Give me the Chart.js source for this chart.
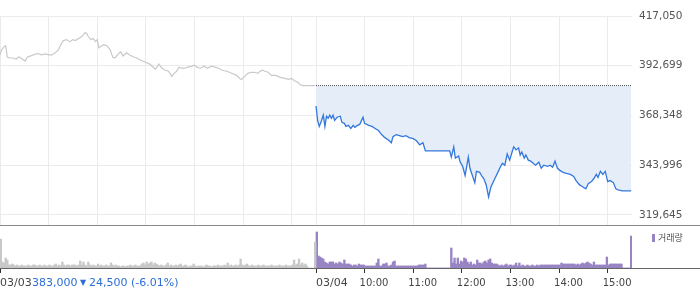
<!DOCTYPE html>
<html>
<head>
<meta charset="utf-8">
<script src="https://cdn.jsdelivr.net/npm/chart.js@4.4.1/dist/chart.umd.min.js"></script>
<style>
  html, body { margin: 0; padding: 0; background: #fff; }
  #wrap { position: relative; width: 700px; height: 289px; overflow: hidden; }
  #priceBox { position: absolute; left: 0; top: 0; width: 700px; height: 226px; }
  #volBox { position: absolute; left: 0; top: 226px; width: 700px; height: 63px; }
</style>
</head>
<body>
<div id="wrap">
  <div id="priceBox"><canvas id="price"></canvas></div>
  <div id="volBox"><canvas id="vol"></canvas></div>
</div>
<script>
// minutes after 09:00, one session = 390 minutes
const SESSION = 390;
const prevClose = 383000;
const priceTicks = [319645, 343996, 368348, 392699, 417050];
const gridMinutes = [0, 60, 120, 180, 240, 300, 360, 390, 450, 510, 570, 630, 690, 750];
const volTickMinutes = [0, 390, 450, 510, 570, 630, 690, 750];
const volTickLabels = ['03/03', '03/04', '10:00', '11:00', '12:00', '13:00', '14:00', '15:00'];
const lastPrice = '383,000';
const changeText = '24,500 (-6.01%)';
const volLabel = '거래량';

// 03/03
const day1Min = [
  0, 2, 5, 7, 9, 12, 16, 20, 23, 26,
  29, 31, 34, 38, 41, 45, 49, 51, 56, 60,
  64, 68, 72, 75, 78, 82, 86, 90, 93, 97,
  101, 105, 107, 109, 112, 115, 118, 120, 122, 124,
  128, 132, 136, 139, 142, 144, 147, 149, 152, 156,
  160, 165, 169, 173, 179, 185, 189, 192, 196, 200,
  204, 208, 212, 215, 218, 221, 224, 228, 232, 237,
  240, 243, 247, 252, 256, 261, 265, 270, 274, 280,
  286, 292, 296, 298, 302, 306, 310, 314, 318, 321,
  324, 327, 331, 335, 340, 346, 352, 356, 360, 363,
  368, 370, 374, 379, 385, 389
];
const day1Price = [
  398000, 400500, 402000, 402500, 397000, 396500, 396500, 396000, 397000, 396500,
  395500, 395000, 397000, 397500, 398000, 398500, 398500, 398000, 398500, 398000,
  398000, 399000, 400500, 403000, 405000, 405500, 404500, 405500, 405000, 406000,
  407000, 409000, 408500, 407000, 405500, 406000, 404500, 405500, 401500, 402000,
  403000, 402500, 400500, 397000, 396500, 397500, 399000, 399500, 397500, 399000,
  398000, 397000, 396500, 395500, 394500, 393500, 392000, 391000, 393500, 391500,
  390500, 390000, 387500, 389000, 390000, 392000, 391500, 391500, 392000, 392500,
  393000, 392000, 391500, 392500, 391500, 392500, 392000, 391500, 390500, 390000,
  389000, 388000, 386500, 386000, 387500, 389000, 389500, 389500, 389000, 390000,
  390500, 390000, 389500, 388000, 388000, 387000, 386500, 386000, 386500, 385500,
  384500, 383500, 383000, 383000, 383000, 383000
];

// 03/04
const day2Min = [
  0, 2, 4, 7, 9, 11, 13, 15, 17, 19,
  21, 23, 26, 30, 32, 35, 37, 40, 43, 46,
  48, 51, 54, 58, 60, 65, 69, 73, 77, 81,
  85, 89, 93, 95, 99, 103, 107, 111, 115, 120,
  124, 128, 132, 135, 165, 167, 170, 172, 176, 178,
  181, 184, 186, 188, 190, 193, 196, 198, 202, 205,
  207, 210, 213, 216, 219, 222, 225, 228, 230, 233,
  236, 239, 242, 244, 247, 250, 252, 254, 257, 259,
  262, 265, 268, 271, 275, 278, 281, 286, 289, 292,
  295, 298, 301, 305, 309, 314, 318, 321, 325, 329,
  333, 336, 340, 343, 346, 348, 351, 354, 357, 360,
  363, 367, 370, 373, 378, 384, 389
];
const day2Price = [
  373000, 366000, 363000, 366000, 368500, 363000, 368000, 367000, 368500, 367000,
  368500, 366000, 367500, 368000, 365000, 364500, 363000, 363500, 362000, 363500,
  362500, 363500, 364000, 367500, 364500, 363500, 363000, 362000, 361000, 359000,
  357500, 356500, 355000, 358000, 359000, 358500, 358000, 358500, 357500, 357000,
  356000, 354000, 355000, 351000, 351000, 348000, 353000, 347500, 348500, 345500,
  343500, 339000, 343500, 348000, 342500, 339000, 335500, 341000, 340500, 338500,
  337500, 334500, 328500, 333500, 336000, 338500, 341000, 343500, 345000, 344000,
  349500, 346500, 350500, 353000, 351500, 352500, 349000, 350500, 347500, 349000,
  346500, 346000, 345000, 344000, 345500, 342500, 344000, 343500, 344000, 343000,
  346000, 342500, 341500, 340500, 340000, 339500, 338500, 336500, 334500, 333500,
  332500, 335000, 336000, 337500, 339500, 338000, 341000, 339500, 341000, 336000,
  336500, 335500, 332500, 332000, 331500, 331500, 331500
];

// volume per 2-minute bin (thousand shares)
const volDay1 = [
  29, 6, 5, 10, 8, 3, 3, 4, 3, 2,
  3, 2, 2, 3, 2, 2, 2, 3, 2, 2,
  3, 3, 2, 2, 3, 2, 2, 3, 2, 2,
  3, 2, 2, 3, 4, 2, 3, 2, 6, 3,
  2, 3, 3, 2, 3, 3, 3, 2, 3, 7,
  3, 6, 3, 2, 6, 3, 2, 3, 2, 2,
  4, 2, 3, 2, 2, 3, 2, 2, 5, 3,
  2, 3, 2, 2, 1, 2, 2, 1, 2, 2,
  3, 2, 2, 3, 2, 2, 2, 4, 5, 3,
  6, 4, 5, 6, 3, 5, 4, 3, 2, 3,
  2, 2, 3, 5, 2, 3, 2, 2, 3, 2,
  3, 4, 2, 2, 3, 2, 1, 2, 2, 4,
  2, 1, 2, 2, 2, 1, 2, 3, 2, 2,
  1, 2, 2, 2, 3, 2, 2, 2, 3, 2,
  5, 2, 3, 2, 2, 3, 2, 3, 9, 3,
  2, 3, 4, 2, 2, 3, 2, 2, 2, 3,
  2, 2, 3, 2, 2, 2, 2, 3, 2, 2,
  2, 2, 3, 2, 2, 2, 3, 2, 2, 2,
  3, 8, 3, 4, 9, 3, 5, 3, 4, 2,
  0, 0, 0, 0, 26
];
const volDay2 = [
  36, 12, 11, 10, 9, 6, 5, 4, 6, 6,
  6, 4, 5, 4, 6, 5, 4, 8, 4, 4,
  4, 3, 2, 3, 3, 2, 4, 3, 3, 3,
  2, 2, 2, 2, 2, 2, 2, 5, 9, 2,
  2, 4, 4, 5, 2, 2, 3, 6, 7, 2,
  2, 2, 2, 2, 2, 2, 2, 2, 2, 2,
  2, 2, 2, 3, 3, 3, 3, 4, 0, 0,
  0, 0, 0, 0, 0, 0, 0, 0, 0, 0,
  0, 0, 0, 20, 5, 10, 4, 10, 4, 7,
  6, 10, 9, 6, 4, 6, 3, 4, 3, 8,
  5, 5, 4, 6, 7, 5, 8, 9, 5, 4,
  4, 4, 3, 2, 3, 2, 3, 4, 2, 3,
  3, 2, 3, 5, 2, 5, 2, 3, 2, 2,
  3, 2, 2, 3, 2, 2, 3, 2, 3, 3,
  3, 3, 3, 3, 3, 3, 3, 3, 3, 3,
  3, 5, 4, 4, 4, 4, 4, 4, 4, 4,
  3, 4, 3, 4, 5, 4, 5, 6, 5, 4,
  3, 6, 3, 3, 3, 3, 3, 3, 3, 11,
  3, 4, 4, 4, 4, 4, 4, 4, 4, 0,
  0, 0, 0, 0, 32
];

const FONT = '"DejaVu Sans", sans-serif';

const priceLines = {
  id: 'priceLines',
  afterDraw(chart) {
    const ctx = chart.ctx;
    ctx.save();
    ctx.strokeStyle = '#8a8a8a';
    ctx.lineWidth = 1;
    ctx.beginPath();
    ctx.moveTo(0, chart.chartArea.bottom + 0.5);
    ctx.lineTo(chart.width, chart.chartArea.bottom + 0.5);
    ctx.stroke();
    ctx.restore();
  }
};

new Chart(document.getElementById('price'), {
  type: 'line',
  data: {
    datasets: [
      {
        data: day1Min.map((m, i) => ({ x: m, y: day1Price[i] })),
        borderColor: '#c9c9cc', borderWidth: 1.2, pointRadius: 0, fill: false, order: 2
      },
      {
        data: day2Min.map((m, i) => ({ x: SESSION + m, y: day2Price[i] })),
        borderColor: '#3478dc', borderWidth: 1.3, pointRadius: 0,
        fill: { value: prevClose }, backgroundColor: '#e5edf9', order: 1
      },
      {
        data: [{ x: SESSION, y: prevClose }, { x: 2 * SESSION, y: prevClose }],
        borderColor: '#555', borderWidth: 1, borderDash: [1, 1], pointRadius: 0, fill: false, order: 0
      }
    ]
  },
  options: {
    responsive: true, maintainAspectRatio: false, animation: false, devicePixelRatio: 1,
    layout: { padding: { top: 16, bottom: 1, left: 0, right: 0 } },
    plugins: { legend: { display: false }, tooltip: { enabled: false } },
    scales: {
      x: {
        type: 'linear', min: 0, max: 2 * SESSION,
        afterBuildTicks: s => { s.ticks = gridMinutes.map(v => ({ value: v })); },
        afterFit: s => { s.height = 0; },
        ticks: { display: false },
        grid: { color: '#ebebeb', drawTicks: false },
        border: { display: false }
      },
      y: {
        position: 'right', min: 314750, max: 417050,
        afterBuildTicks: s => { s.ticks = priceTicks.map(v => ({ value: v })); },
        // keep labels from pushing the plot area in
        afterFit: s => { s.width = 68; s.paddingTop = 0; s.paddingBottom = 0; },
        grid: { color: '#ebebeb', drawTicks: false },
        border: { display: false },
        ticks: {
          padding: 7, color: '#555',
          font: { family: FONT, size: 10.5 },
          callback: v => v.toLocaleString('en-US')
        }
      }
    }
  },
  plugins: [priceLines]
});

const volOverlay = {
  id: 'volOverlay',
  afterDraw(chart) {
    const { ctx, chartArea } = chart;
    const x = chart.scales.x;
    const labelY = 57;
    ctx.save();
    ctx.strokeStyle = '#666';
    ctx.lineWidth = 1;
    ctx.beginPath();
    ctx.moveTo(0, chartArea.bottom + 0.5);
    ctx.lineTo(chart.width, chartArea.bottom + 0.5);
    ctx.stroke();

    ctx.textBaseline = 'middle';
    ctx.textAlign = 'left';
    ctx.fillStyle = '#444';
    volTickMinutes.forEach((m, i) => {
      const px = x.getPixelForValue(m);
      const isDate = volTickLabels[i].includes('/');
      ctx.font = (isDate ? '11px ' : '10px ') + FONT;
      ctx.fillText(volTickLabels[i], isDate ? px : px - 5, labelY);
    });

    // last price info
    ctx.fillStyle = '#2d6ed6';
    ctx.font = '11px ' + FONT;
    ctx.fillText(lastPrice, 32, labelY);
    ctx.font = '8px ' + FONT;
    ctx.fillText('▼', 80, labelY);
    ctx.font = '11px ' + FONT;
    ctx.fillText(changeText, 89, labelY);

    // legend
    ctx.fillStyle = '#9884c4';
    ctx.fillRect(652, 8, 3, 8);
    ctx.fillStyle = '#555';
    ctx.font = '9px "Noto Sans CJK KR", sans-serif';
    ctx.fillText(volLabel, 658, 12);
    ctx.restore();
  }
};

new Chart(document.getElementById('vol'), {
  type: 'bar',
  data: {
    datasets: [
      {
        data: volDay1.map((v, i) => ({ x: 2 * i + 1, y: v })),
        backgroundColor: '#c8c8c8', barThickness: 1.7, grouped: false
      },
      {
        data: volDay2.map((v, i) => ({ x: SESSION + 2 * i + 1, y: v })),
        backgroundColor: '#9884c4', barThickness: 1.7, grouped: false
      }
    ]
  },
  options: {
    responsive: true, maintainAspectRatio: false, animation: false, devicePixelRatio: 1,
    layout: { padding: { top: 0, bottom: 0, left: 0, right: 68 } },
    plugins: { legend: { display: false }, tooltip: { enabled: false } },
    scales: {
      x: {
        type: 'linear', min: 0, max: 2 * SESSION, offset: false,
        afterBuildTicks: s => { s.ticks = volTickMinutes.map(v => ({ value: v })); },
        afterFit: s => { s.height = 21; },
        ticks: { display: false },
        grid: { drawOnChartArea: false, drawTicks: true, tickLength: 5, color: '#333', offset: false },
        border: { display: false }
      },
      y: { display: false, min: 0, max: 42 }
    }
  },
  plugins: [volOverlay]
});
</script>
</body>
</html>
